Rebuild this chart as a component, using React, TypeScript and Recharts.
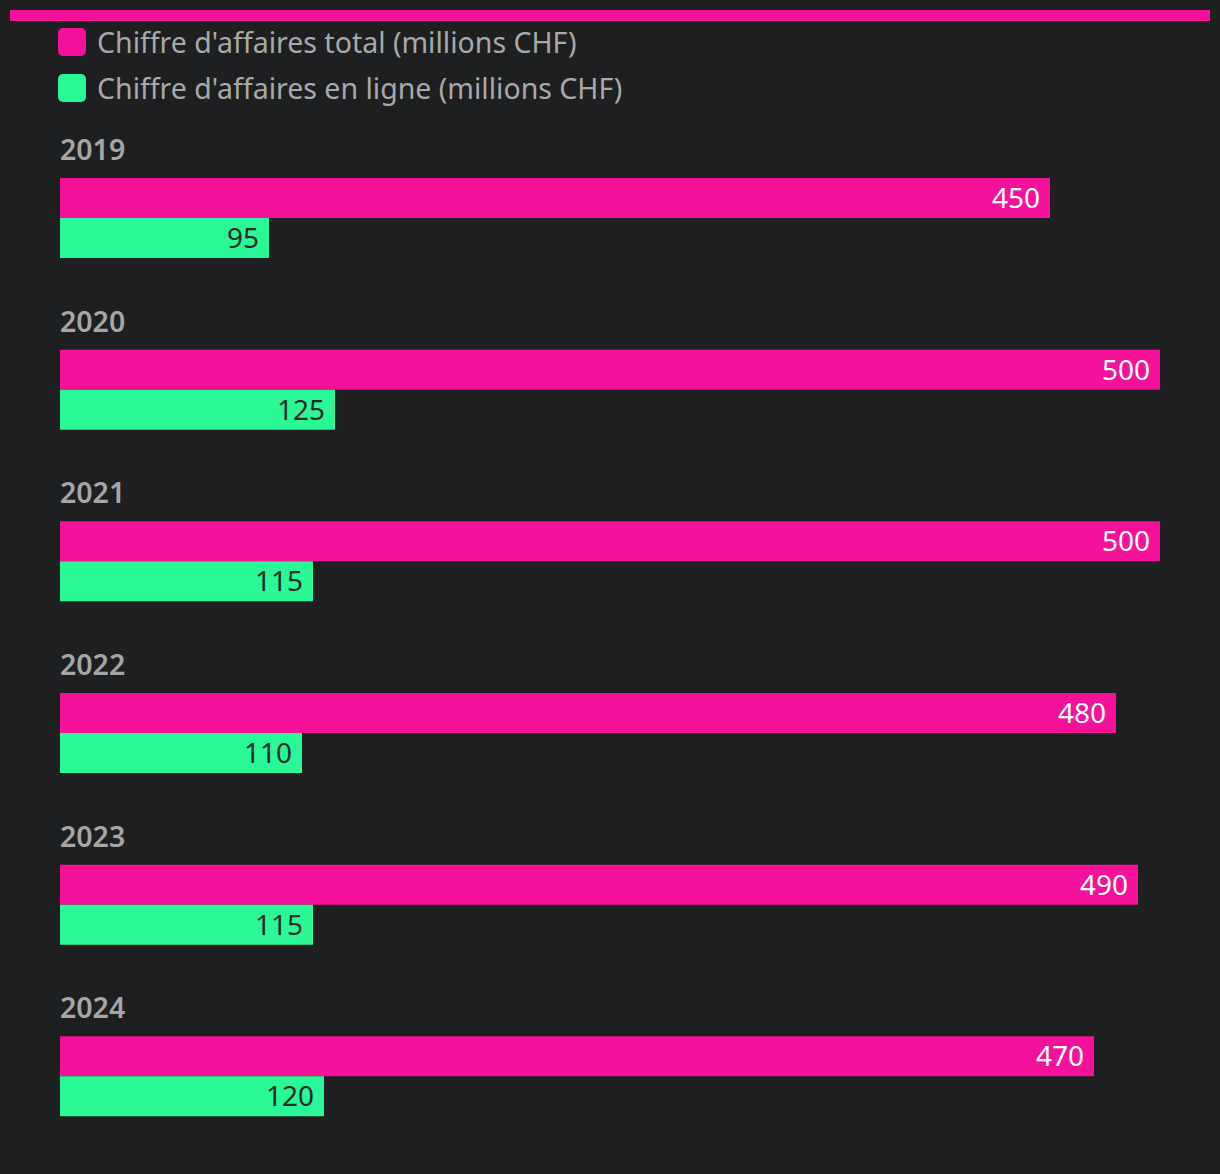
import { Bar, BarChart, LabelList, Legend, XAxis, YAxis } from "recharts";

const years = ["2019", "2020", "2021", "2022", "2023", "2024"];
const totalCA = [450, 500, 500, 480, 490, 470];
const onlineCA = [95, 125, 115, 110, 115, 120];

const PINK = "#f5119a";
const GREEN = "#2af795";
const BG = "#1e1f21";
const FONT = "'Noto Sans', sans-serif";

const data = years.map((year, i) => ({
  year,
  total: totalCA[i],
  online: onlineCA[i],
}));

const series = [
  { key: "total", name: "Chiffre d'affaires total (millions CHF)", color: PINK },
  { key: "online", name: "Chiffre d'affaires en ligne (millions CHF)", color: GREEN },
];

function LegendContent() {
  return (
    <div style={{ height: 100, fontFamily: FONT }}>
      {series.map((s) => (
        <div
          key={s.key}
          style={{ display: "flex", alignItems: "center", height: 46, marginTop: s.key === "total" ? -7 : 0 }}
        >
          <span
            style={{
              width: 28,
              height: 28,
              borderRadius: 5,
              background: s.color,
              display: "inline-block",
              marginRight: 11,
              flexShrink: 0,
            }}
          />
          <span style={{ color: "#a9a9a9", fontSize: 28.5, whiteSpace: "nowrap" }}>{s.name}</span>
        </div>
      ))}
    </div>
  );
}

function YearLabel(props: any) {
  const { x, y, value } = props;
  return (
    <text x={x} y={y - 18} fill="#a6a6a6" fontSize={28.5} fontWeight={600} fontFamily={FONT}>
      {value}
    </text>
  );
}

export default function App() {
  return (
    <div style={{ position: "relative", width: 1220, height: 1174, background: BG }}>
      <style>{`body{margin:0;background:${BG}}`}</style>
      <div style={{ position: "absolute", left: 10, top: 10, width: 1200, height: 11, background: PINK }} />
      <BarChart
        width={1220}
        height={1174}
        data={data}
        layout="vertical"
        margin={{ top: 39, right: 60, bottom: 12, left: 60 }}
        barGap={0}
        barSize={40}
      >
        <XAxis type="number" domain={[0, 500]} hide />
        <YAxis type="category" dataKey="year" hide />
        <Legend
          verticalAlign="top"
          align="left"
          content={<LegendContent />}
          wrapperStyle={{ left: 58, top: 26 }}
        />
        <Bar dataKey="total" name={series[0].name} fill={PINK} isAnimationActive={false}>
          <LabelList dataKey="year" content={<YearLabel />} />
          <LabelList
            dataKey="total"
            position="insideRight"
            offset={10}
            fill="#ffffff"
            fontSize={28}
            fontFamily={FONT}
          />
        </Bar>
        <Bar dataKey="online" name={series[1].name} fill={GREEN} isAnimationActive={false}>
          <LabelList
            dataKey="online"
            position="insideRight"
            offset={10}
            fill="#2b2b2b"
            fontSize={28}
            fontFamily={FONT}
          />
        </Bar>
      </BarChart>
    </div>
  );
}
